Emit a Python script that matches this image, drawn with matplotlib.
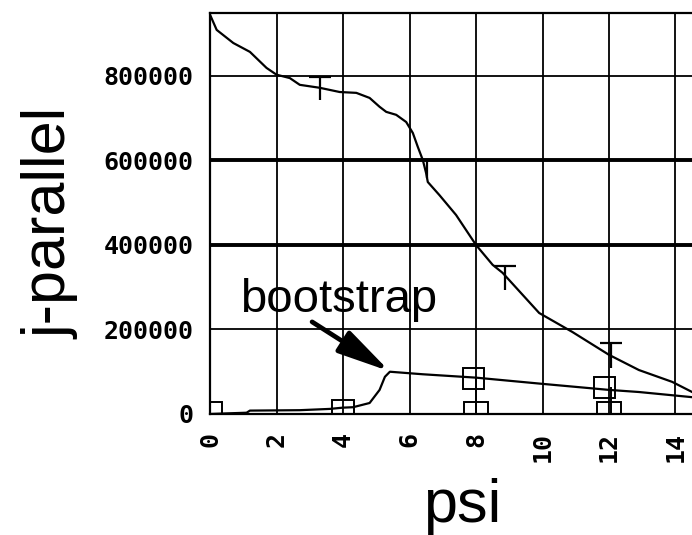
import matplotlib
matplotlib.use("Agg")
import matplotlib.pyplot as plt
import numpy as np

# j-parallel profile against psi
psi_j = [0.0, 0.2, 0.7, 1.2, 1.7, 2.0, 2.4, 2.7, 3.3, 3.9, 4.4, 4.8, 5.1, 5.3, 5.6,
         5.9, 6.1, 6.25, 6.4, 6.5, 6.55, 6.9, 7.4, 8.0, 8.5, 8.8, 9.9, 10.9, 12.0,
         12.9, 13.9, 14.6]
j_par = [945000, 909000, 878000, 857000, 819000, 803000, 795000, 779000, 772000,
         762000, 760000, 748000, 727000, 715000, 708000, 691000, 665000, 632000,
         601000, 570000, 549000, 518000, 471000, 400000, 353000, 334000, 239000,
         194000, 140000, 104000, 76000, 48000]

# error bars on the j-parallel profile (only the upper cap is drawn)
err_psi = [3.3, 6.53, 8.87, 12.05]
err_hi = [797000, 601000, 350000, 168000]
err_lo = [743000, 559000, 293000, 110000]

# bootstrap current
psi_bs = [0.0, 1.1, 1.2, 2.7, 3.6, 4.0, 4.3, 4.8, 5.1, 5.26, 5.41, 6.4, 8.0, 9.9,
          12.0, 12.9, 14.6]
j_bs = [0, 3000, 8000, 9000, 12000, 15000, 16000, 26000, 57000, 88000, 100000,
        94000, 86000, 72000, 57000, 52000, 39000]

# bootstrap sample points
mk_psi = [0.0, 4.0, 8.0, 12.0, 7.9, 11.85]
mk_val = [0, 8000, 0, 0, 85000, 65000]
mk_size = [24, 22, 24, 24, 21, 21]
stem_psi = [8.0, 12.05]
stem_top = [85000, 65000]

xticks = [0, 2, 4, 6, 8, 10, 12, 14]
yticks = [0, 200000, 400000, 600000, 800000]

fig = plt.figure(figsize=(6.92, 5.35), dpi=100)
ax = fig.add_axes([0.3035, 0.2262, 0.7207, 0.7495])

ax.set_xlim(0, 15)
ax.set_ylim(0, 949000)

ax.plot(psi_j, j_par, color="black", lw=1.6)
ax.plot(psi_bs, j_bs, color="black", lw=1.6)

ax.vlines(err_psi, err_lo, err_hi, color="black", lw=1.6)
ax.hlines(err_hi, np.array(err_psi) - 0.33, np.array(err_psi) + 0.33,
          color="black", lw=1.6)

ax.vlines(stem_psi, 0, stem_top, color="black", lw=1.4)
for p, v, s in zip(mk_psi, mk_val, mk_size):
    ax.plot(p, v, marker="s", ms=s * 0.72, mfc="none", mec="black", mew=1.4)

ax.text(0.9, 241000, "bootstrap", fontsize=34, family="Liberation Sans",
        ha="left", va="baseline")
ax.annotate("", xy=(5.4, 101000), xytext=(3.07, 218000),
            arrowprops=dict(arrowstyle="-|>,head_length=1.6,head_width=0.38",
                            mutation_scale=20, lw=3.4, color="black",
                            shrinkA=0, shrinkB=0))

ax.set_xticks(xticks)
ax.set_xticklabels([str(t) for t in xticks])
ax.set_yticks(yticks)
ax.set_yticklabels([str(t) for t in yticks])
tick_font = dict(family="DejaVu Sans Mono", weight="bold", size=18)
for lab in ax.get_xticklabels() + ax.get_yticklabels():
    lab.set_fontproperties(matplotlib.font_manager.FontProperties(**tick_font))
ax.tick_params(axis="x", length=0, pad=13, labelrotation=90)
ax.tick_params(axis="y", length=0, pad=12)

ax.grid(True, color="black", lw=1.3)
for tick in ax.yaxis.get_major_ticks():
    if tick.get_loc() in (400000, 600000):
        tick.gridline.set_linewidth(2.8)

for sp in ax.spines.values():
    sp.set_linewidth(1.6)

ax.set_xlabel("psi", fontsize=44, family="Liberation Sans")
ax.xaxis.set_label_coords(0.505, -0.16)
ax.xaxis.label.set_va("top")
ax.set_ylabel("j-parallel", fontsize=44, family="Liberation Sans")
ax.yaxis.set_label_coords(-0.261, 0.476)

fig.savefig("out.png", dpi=100)
